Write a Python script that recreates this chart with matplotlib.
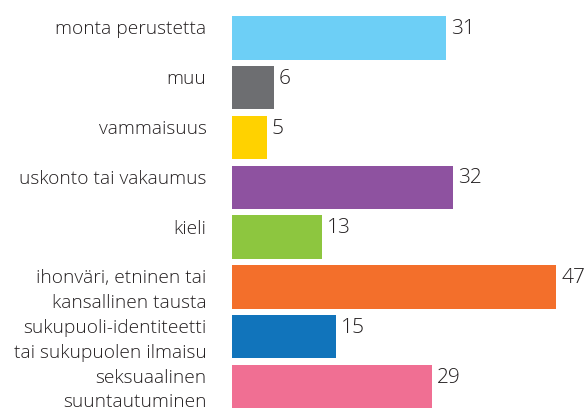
import matplotlib
matplotlib.use("Agg")
import matplotlib.pyplot as plt

# Data (top to bottom)
categories = [
    "monta perustetta",
    "muu",
    "vammaisuus",
    "uskonto tai vakaumus",
    "kieli",
    "ihonväri, etninen tai\nkansallinen tausta",
    "sukupuoli-identiteetti\ntai sukupuolen ilmaisu",
    "seksuaalinen\nsuuntautuminen",
]
values = [31, 6, 5, 32, 13, 47, 15, 29]
colors = ["#6DCFF6", "#6D6E71", "#FFD200", "#8E52A0",
          "#8DC63F", "#F36F2B", "#1174BB", "#F06F93"]

TEXT_COLOR = "#231F20"
plt.rcParams["font.family"] = ["Open Sans", "DejaVu Sans"]

fig = plt.figure(figsize=(5.88, 4.16), dpi=100)
ax = fig.add_axes([0.395, 0.0, 0.605, 1.0])

bar_h = 0.87
ypos = list(range(len(values)))
ax.barh(ypos, values, height=bar_h, color=colors, edgecolor="none")

ax.set_xlim(0, 51.6)
ax.set_ylim(7.59, -0.76)
ax.axis("off")

for y, v, lab in zip(ypos, values, categories):
    top = y - bar_h / 2
    # category label, right aligned left of the bars
    ax.annotate(lab, xy=(0, top), xytext=(-18.6, -3),
                textcoords="offset points", ha="right", va="top",
                fontsize=13.8, fontweight="light", color=TEXT_COLOR,
                linespacing=1.45, annotation_clip=False)
    # value label after the bar end
    ax.annotate(str(v), xy=(v, top), xytext=(3.5, -2),
                textcoords="offset points", ha="left", va="top",
                fontsize=15, fontweight="light", color=TEXT_COLOR,
                annotation_clip=False)

fig.savefig("out.png", dpi=100)
